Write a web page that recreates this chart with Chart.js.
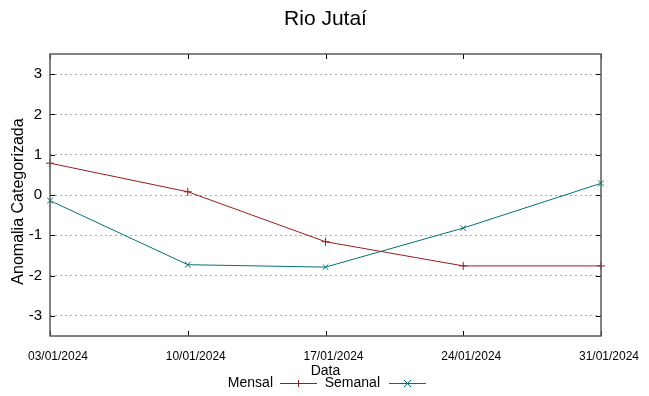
<!DOCTYPE html>
<html>
<head>
<meta charset="utf-8">
<script src="https://cdn.jsdelivr.net/npm/chart.js@4.4.1/dist/chart.umd.min.js"></script>
<style>
html,body{margin:0;padding:0;background:#fff;}
#wrap{width:649px;height:396px;position:relative;}
</style>
</head>
<body>
<div id="wrap"><canvas id="c" width="649" height="396"></canvas></div>
<script>
const chartTitle = "Rio Jutaí";
const categories = ["03/01/2024", "10/01/2024", "17/01/2024", "24/01/2024", "31/01/2024"];
const mensal = [0.79, 0.08, -1.16, -1.76, -1.76];
const semanal = [-0.14, -1.73, -1.79, -0.82, 0.29];
const yTicks = [-3, -2, -1, 0, 1, 2, 3];
const seriesNames = ["Mensal", "Semanal"];
const xTitle = "Data";
const yTitle = "Anomalia Categorizada";

const RED = "#9b1c1c";
const TEAL = "#007272";
const SANS = "'Liberation Sans', Arial, sans-serif";

function drawText(ctx, text, x, y, font, align) {
  ctx.save();
  ctx.font = font;
  ctx.textAlign = align;
  ctx.textBaseline = 'middle';
  ctx.fillStyle = '#000';
  ctx.fillText(text, x, y);
  ctx.restore();
}

const framePlugin = {
  id: 'frame',
  afterDatasetsDraw(chart) {
    const ctx = chart.ctx;
    const a = chart.chartArea;
    const xs = chart.scales.x, ys = chart.scales.y;
    ctx.save();
    ctx.strokeStyle = '#000';
    ctx.lineWidth = 1;
    ctx.beginPath();
    yTicks.forEach(v => {
      const y = Math.round(ys.getPixelForValue(v)) + 0.5;
      ctx.moveTo(a.left, y); ctx.lineTo(a.left + 5, y);
      ctx.moveTo(a.right, y); ctx.lineTo(a.right - 5, y);
    });
    categories.forEach((c, i) => {
      const x = Math.round(xs.getPixelForValue(i)) + 0.5;
      ctx.moveTo(x, a.top); ctx.lineTo(x, a.top + 5);
      ctx.moveTo(x, a.bottom); ctx.lineTo(x, a.bottom - 5);
    });
    ctx.stroke();
    ctx.strokeStyle = '#5a5a5a';
    ctx.lineWidth = 1.5;
    ctx.strokeRect(a.left, a.top, a.right - a.left, a.bottom - a.top);
    ctx.restore();
  },
  afterDraw(chart) {
    const ctx = chart.ctx;
    const a = chart.chartArea;
    const xs = chart.scales.x;
    const cx = (a.left + a.right) / 2;
    // title
    drawText(ctx, chartTitle, cx, 19, "21px " + SANS, 'center');
    // y title
    ctx.save();
    ctx.translate(19, 201.5);
    ctx.rotate(-Math.PI / 2);
    drawText(ctx, yTitle, 0, 0, "16px " + SANS, 'center');
    ctx.restore();
    // x tick labels (shifted right like the original)
    categories.forEach((c, i) => {
      drawText(ctx, c, xs.getPixelForValue(i) + 8, 356.5, "12px " + SANS, 'center');
    });
    // x title
    drawText(ctx, xTitle, cx, 371, "14px " + SANS, 'center');
    // legend
    const items = [
      {name: seriesNames[0], color: RED, style: 'plus', textRight: 273, x0: 280, x1: 317},
      {name: seriesNames[1], color: TEAL, style: 'x', textRight: 380, x0: 389, x1: 426}
    ];
    const ly = 383.5;
    ctx.save();
    items.forEach(it => {
      drawText(ctx, it.name, it.textRight, ly, "14px " + SANS, 'right');
      ctx.strokeStyle = it.color;
      ctx.lineWidth = 1;
      ctx.beginPath();
      ctx.moveTo(it.x0, ly); ctx.lineTo(it.x1, ly);
      const m = (it.x0 + it.x1) / 2, r = 3.5;
      if (it.style === 'plus') {
        ctx.moveTo(m, ly - r); ctx.lineTo(m, ly + r);
      } else {
        ctx.moveTo(m - r, ly - r); ctx.lineTo(m + r, ly + r);
        ctx.moveTo(m - r, ly + r); ctx.lineTo(m + r, ly - r);
      }
      ctx.stroke();
    });
    ctx.restore();
  }
};

new Chart(document.getElementById('c'), {
  type: 'line',
  data: {
    labels: categories,
    datasets: [
      {label: seriesNames[0], data: mensal, borderColor: RED, backgroundColor: RED,
       borderWidth: 1, pointStyle: 'cross', pointRadius: 4, pointBorderWidth: 1,
       pointBorderColor: RED, tension: 0, fill: false},
      {label: seriesNames[1], data: semanal, borderColor: TEAL, backgroundColor: TEAL,
       borderWidth: 1, pointStyle: 'crossRot', pointRadius: 4, pointBorderWidth: 1,
       pointBorderColor: TEAL, tension: 0, fill: false}
    ]
  },
  options: {
    responsive: false,
    animation: false,
    clip: false,
    layout: {padding: {left: 0, right: 48, top: 54, bottom: 0}},
    plugins: {legend: {display: false}, title: {display: false}, tooltip: {enabled: false}},
    scales: {
      x: {
        type: 'category',
        offset: false,
        grid: {display: false, drawTicks: false},
        border: {display: false},
        ticks: {display: false, autoSkip: false},
        afterFit(scale) { scale.height = 60; }
      },
      y: {
        min: -3.5, max: 3.5,
        afterBuildTicks(scale) { scale.ticks = yTicks.map(v => ({value: v})); },
        grid: {color: '#a8a8a8', lineWidth: 1, drawTicks: false},
        border: {display: false, dash: [2, 3]},
        ticks: {color: '#000', font: {family: SANS, size: 15}, padding: 8},
        title: {display: false},
        afterFit(scale) { scale.width = 50; }
      }
    }
  },
  plugins: [framePlugin]
});
</script>
</body>
</html>
